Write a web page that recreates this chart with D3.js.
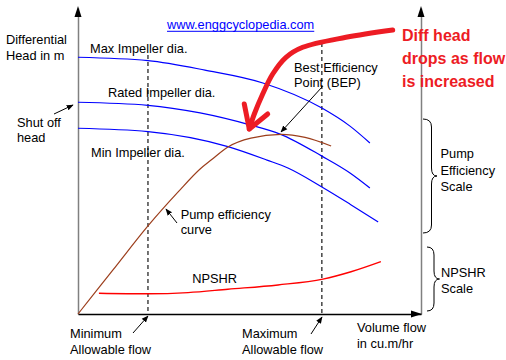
<!DOCTYPE html>
<html><head><meta charset="utf-8">
<script src="https://cdn.jsdelivr.net/npm/d3@7"></script>
<style>
body{margin:0;background:#fff}
svg{display:block}
text{font-family:"Liberation Sans",Arial,Helvetica,sans-serif;font-size:12.8px;fill:#000}
</style>
</head><body>
<svg id="c" width="506" height="360"></svg>
<script>
// ---- data (flow % of axis, head % of axis) ----
const flowDomain = [0, 100];
const headDomain = [0, 100];
const maxImpeller   = [[0,83.9],[20.4,82.8],[37.0,79.7],[53.9,75.5],[71.1,67.3],[79.3,61.4],[85.1,55.9]];
const ratedImpeller = [[0,69.2],[20.4,68.2],[35.6,65.7],[50.1,61.8],[58.9,58.8],[71.1,51.6],[79.3,46.1],[85.1,41.2]];
const minImpeller   = [[0,60.7],[20.4,59.6],[43.7,54.7],[55.1,50.3],[61.2,47.7],[71.1,41.5],[79.3,35.9],[87.5,30.1]];
const efficiency    = [[0,0],[10.2,14.4],[20.4,28.8],[29.2,39.9],[35.6,47.4],[38.8,50.3],[43.7,54.6],[50.4,57.5],[59.2,58.7],[66.2,57.7],[73.8,54.9]];
const npshr         = [[6.1,6.8],[20.4,6.6],[32.1,7.0],[43.7,8.1],[58.3,9.5],[71.4,11.4],[79.6,13.8],[88.3,17.1]];
const flowLimits    = [{name:"min", flow:20.4, top:84.6},{name:"max", flow:71.1, top:88.6}];
const redArrow      = [[91.75,92.81],[78.13,90.42],[65.51,87.16],[60.64,83.89],[56.76,78.43],[53.85,71.90],[51.40,65.36],[49.94,60.46]];
const redBarbs      = [[48.48,68.63],[49.94,60.46],[55.31,65.36]];

const svg = d3.select("#c");
const x = d3.scaleLinear().domain(flowDomain).range([78, 421]);
const y = d3.scaleLinear().domain(headDomain).range([314, 8]);

svg.append("defs").append("marker")
  .attr("id","ah").attr("viewBox","0 0 10 10").attr("refX",9).attr("refY",5)
  .attr("markerWidth",7).attr("markerHeight",7).attr("markerUnits","userSpaceOnUse")
  .attr("orient","auto")
  .append("path").attr("d","M0,1 L10,5 L0,9 Z").attr("fill","#000");

// axes
const gl = svg.append("g").attr("transform","translate(78,0)")
  .call(d3.axisLeft(y).tickValues([]).tickSizeOuter(0));
gl.select(".domain").attr("stroke","#808080").attr("stroke-width",1.5);
const gr = svg.append("g").attr("transform","translate(421,0)")
  .call(d3.axisRight(y).tickValues([]).tickSizeOuter(0));
gr.select(".domain").attr("stroke","#808080").attr("stroke-width",1.5);
const gb = svg.append("g").attr("transform","translate(0,314)")
  .call(d3.axisBottom(x).tickValues([]).tickSizeOuter(0));
gb.select(".domain").attr("stroke","#000").attr("stroke-width",1.5);

// axis arrowheads
const tri = (pts)=>svg.append("path").attr("d","M"+pts.join("L")+"Z").attr("fill","#000");
tri([[x(0),y(100)-2],[x(0)-3.5,y(100)+9],[x(0)+3.5,y(100)+9]]);
tri([[x(100),y(100)-2],[x(100)-3.5,y(100)+9],[x(100)+3.5,y(100)+9]]);
tri([[x(100)+1,y(0)],[x(100)-10,y(0)-3.5],[x(100)-10,y(0)+3.5]]);

// dashed limit lines
svg.selectAll(".lim").data(flowLimits).join("line")
  .attr("x1",d=>x(d.flow)).attr("x2",d=>x(d.flow))
  .attr("y1",d=>y(d.top)).attr("y2",y(0))
  .attr("stroke","#000").attr("stroke-width",1.1).attr("stroke-dasharray","4,3");

const line = d3.line().x(d=>x(d[0])).y(d=>y(d[1])).curve(d3.curveMonotoneX);
[maxImpeller, ratedImpeller, minImpeller].forEach(s=>{
  svg.append("path").attr("d",line(s)).attr("fill","none").attr("stroke","#0000ff").attr("stroke-width",1.2);
});
svg.append("path").attr("d",line(efficiency)).attr("fill","none").attr("stroke","#9c3e1c").attr("stroke-width",1.2);
svg.append("path").attr("d",line(npshr)).attr("fill","none").attr("stroke","#ff0000").attr("stroke-width",1.4);

// red annotation arrow
const redLine = d3.line().x(d=>x(d[0])).y(d=>y(d[1])).curve(d3.curveCatmullRom);
svg.append("path").attr("d",redLine(redArrow)).attr("fill","none").attr("stroke","#ed1c24")
  .attr("stroke-width",5).attr("stroke-linecap","round");
svg.append("path").attr("d",d3.line().x(d=>x(d[0])).y(d=>y(d[1]))(redBarbs)).attr("fill","none")
  .attr("stroke","#ed1c24").attr("stroke-width",5).attr("stroke-linecap","round").attr("stroke-linejoin","round");

// thin annotation arrows
const arrows = [[54,114,73,105],[322,87,281,132],[177,223,166,209],[133,333,148,316],[311,334,322,317]];
svg.selectAll(".arr").data(arrows).join("line")
  .attr("x1",d=>d[0]).attr("y1",d=>d[1]).attr("x2",d=>d[2]).attr("y2",d=>d[3])
  .attr("stroke","#000").attr("stroke-width",1).attr("marker-end","url(#ah)");

// braces
function brace(x0, xv, xt, y0, y1){
  const ym=(y0+y1)/2, r=8;
  return `M${x0},${y0} Q${xv},${y0} ${xv},${y0+r} L${xv},${ym-r} Q${xv},${ym} ${xt},${ym} Q${xv},${ym} ${xv},${ym+r} L${xv},${y1-r} Q${xv},${y1} ${x0},${y1}`;
}
svg.append("path").attr("d",brace(423,431.5,437,119,233)).attr("fill","none").attr("stroke","#000").attr("stroke-width",1);
svg.append("path").attr("d",brace(427,434,439.5,247,311)).attr("fill","none").attr("stroke","#000").attr("stroke-width",1);

// texts
const labels = [
  [6,44,"Differential"],[6,59.5,"Head in m"],
  [90,52.7,"Max Impeller dia."],
  [108,97.3,"Rated Impeller dia."],
  [17,126.7,"Shut off"],[17,141.7,"head"],
  [91,156.7,"Min Impeller dia."],
  [294,71.7,"Best Efficiency"],[294,87.3,"Point (BEP)"],
  [180.7,219.3,"Pump efficiency"],[180.7,234,"curve"],
  [192.3,283.3,"NPSHR"],
  [70,338.3,"Minimum"],[70,354,"Allowable flow"],
  [242,338.3,"Maximum"],[242,354,"Allowable flow"],
  [357,332.3,"Volume flow"],[357,348.3,"in cu.m/hr"],
  [440.5,158.3,"Pump"],[440.5,175,"Efficiency"],[440.5,190.7,"Scale"],
  [441,277.3,"NPSHR"],[441,293.3,"Scale"]
];
svg.selectAll(".lbl").data(labels).join("text")
  .attr("x",d=>d[0]).attr("y",d=>d[1]).text(d=>d[2]);

const url = svg.append("text").attr("x",167).attr("y",29.3).style("fill","#0000ff").text("www.enggcyclopedia.com");
const w = url.node().getComputedTextLength();
svg.append("line").attr("x1",167).attr("x2",167+w).attr("y1",31.3).attr("y2",31.3).attr("stroke","#0000ff").attr("stroke-width",1);

const red = [[402,40.5,"Diff head"],[402,63.5,"drops as flow"],[402,86.5,"is increased"]];
svg.selectAll(".red").data(red).join("text")
  .attr("x",d=>d[0]).attr("y",d=>d[1]).text(d=>d[2])
  .style("fill","#ed1c24").style("font-weight","bold").style("font-size","16px");
</script>
</body></html>
